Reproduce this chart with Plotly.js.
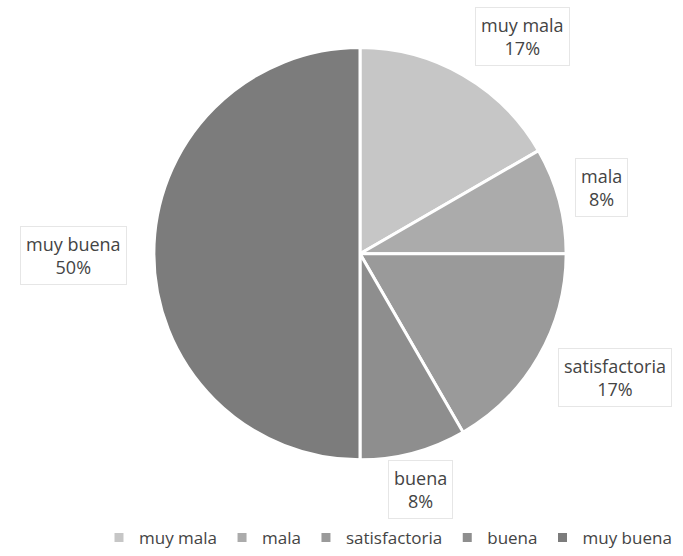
<!DOCTYPE html>
<html>
<head>
<meta charset="utf-8">
<script src="https://cdn.plot.ly/plotly-3.0.1.min.js"></script>
<style>html,body{margin:0;padding:0;background:#fff;}#chart{width:683px;height:556px;}</style>
</head>
<body>
<div id="chart"></div>
<script>
const categories = ["muy mala", "mala", "satisfactoria", "buena", "muy buena"];
const values = [2, 1, 2, 1, 6];
const colors = ["#c6c6c6", "#ababab", "#9a9a9a", "#8e8e8e", "#7c7c7c"];
// label box centers (pixels) for each category
const labelPos = [[522, 37], [601, 189], [615, 381], [420, 494], [73, 258]];

const W = 683, H = 556;
const total = values.reduce((a, b) => a + b, 0);
const FONT = "Open Sans, sans-serif";

const annotations = categories.map((c, i) => ({
  xref: "paper", yref: "paper",
  x: labelPos[i][0] / W, y: 1 - labelPos[i][1] / H,
  xanchor: "center", yanchor: "middle",
  text: c + "<br>" + Math.round(values[i] / total * 100) + "%",
  showarrow: false,
  font: {family: FONT, size: 18, color: "#444"},
  bordercolor: "#e6e6e6", borderwidth: 1, borderpad: 5,
  bgcolor: "rgba(255,255,255,0)"
}));

const trace = {
  type: "pie",
  labels: categories,
  values: values,
  sort: false,
  direction: "clockwise",
  rotation: 0,
  textinfo: "none",
  hoverinfo: "label+percent",
  marker: {colors: colors, line: {color: "#ffffff", width: 3}},
  domain: {x: [(360 - 208) / W, (360 + 208) / W], y: [1 - 464 / H, 1 - 48 / H]}
};

const layout = {
  width: W, height: H,
  margin: {l: 0, r: 0, t: 0, b: 0},
  paper_bgcolor: "#ffffff",
  showlegend: true,
  legend: {
    orientation: "h", x: 388 / W, xanchor: "center", y: 1 - 543 / H, yanchor: "middle",
    font: {family: FONT, size: 17, color: "#444"},
    itemwidth: 30, traceorder: "normal"
  },
  annotations: annotations
};

Plotly.newPlot("chart", [trace], layout, {displayModeBar: false, staticPlot: true});
</script>
</body>
</html>
